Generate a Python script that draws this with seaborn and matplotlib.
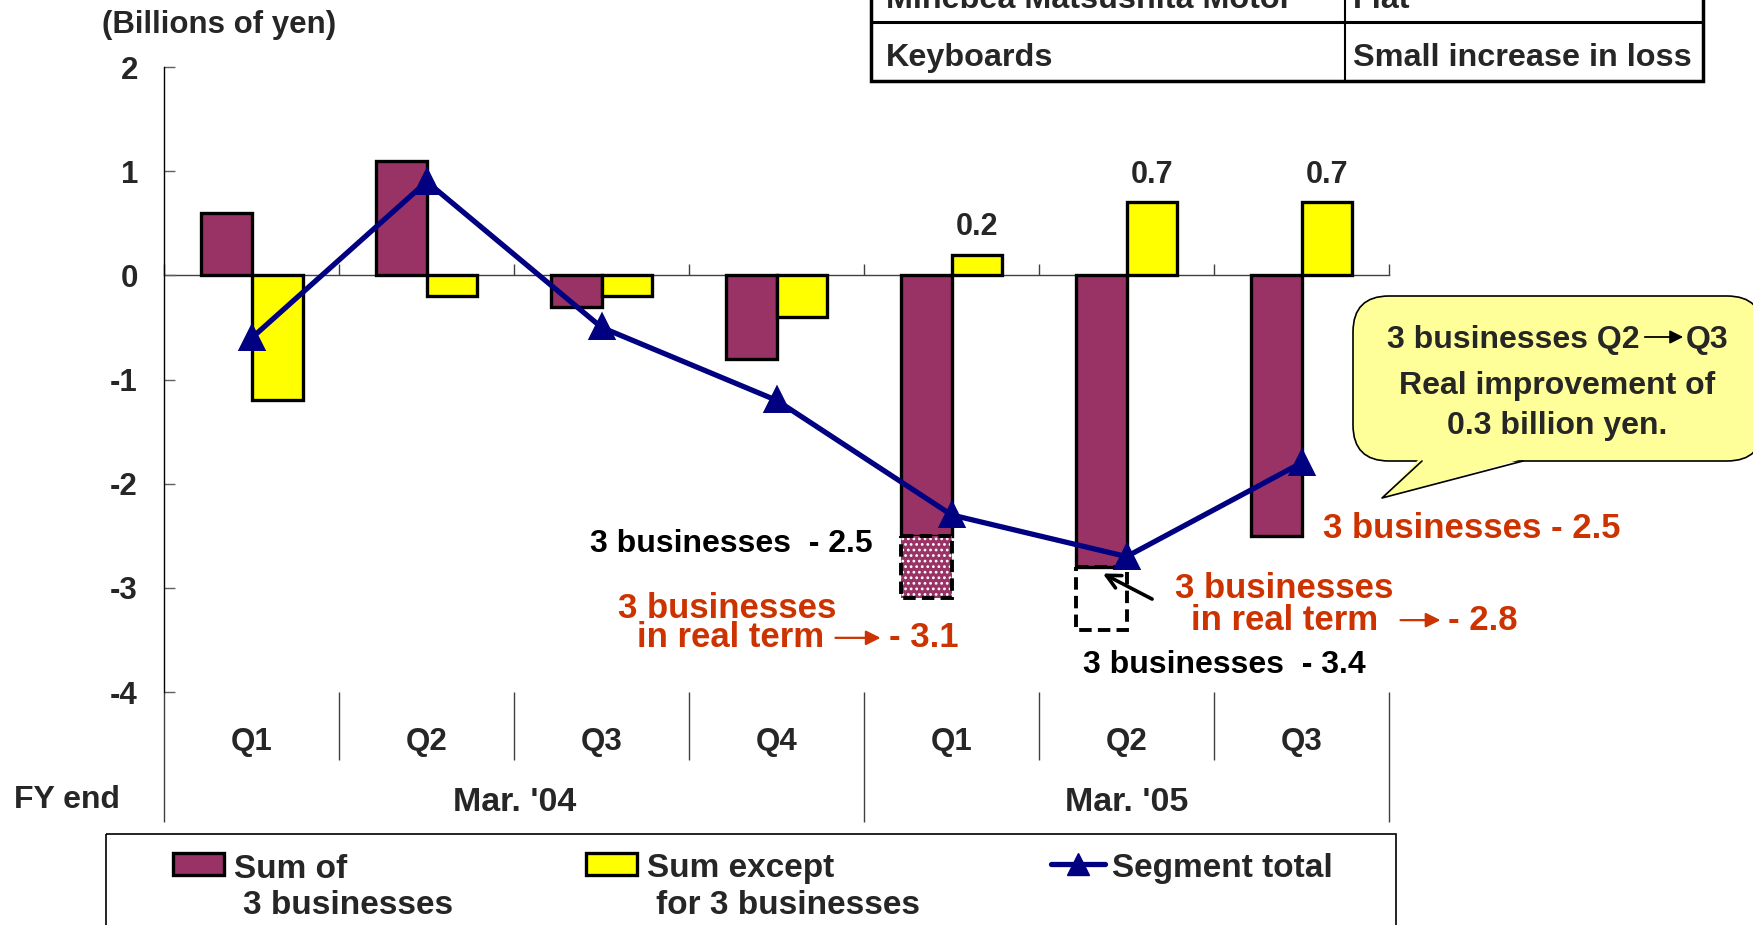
"""Segment profit chart: 3 businesses vs the rest, quarterly."""
import matplotlib
matplotlib.use("Agg")
import matplotlib.pyplot as plt
from matplotlib.lines import Line2D
from matplotlib.patches import FancyBboxPatch, Polygon, Rectangle
import numpy as np
import pandas as pd
import seaborn as sns

# ---- data -------------------------------------------------------------
quarters = ["Q1", "Q2", "Q3", "Q4", "Q1", "Q2", "Q3"]
fiscal_years = ["Mar. '04", "Mar. '05"]
fy_of_quarter = [0, 0, 0, 0, 1, 1, 1]
three_businesses = [0.6, 1.1, -0.3, -0.8, -2.5, -2.8, -2.5]
other_businesses = [-1.2, -0.2, -0.2, -0.4, 0.2, 0.7, 0.7]
segment_total = [-0.6, 0.9, -0.5, -1.2, -2.3, -2.7, -1.8]
other_labels = ["", "", "", "", "0.2", "0.7", "0.7"]
# real-term / reported adjustment boxes on the 3-business bars
adj_index = [4, 5]
adj_from = [-2.5, -2.8]
adj_to = [-3.1, -3.4]
legend_names = [("Sum of", "3 businesses"), ("Sum except", "for 3 businesses"), ("Segment total", "")]
table_rows = [("Minebea Matsushita Motor", "Flat"), ("Keyboards", "Small increase in loss")]
y_ticks = [-4, -3, -2, -1, 0, 1, 2]

PURPLE = "#993366"
YELLOW = "#FFFF00"
NAVY = "#000080"
RED = "#CC3300"
BUBBLE = "#FFFF99"
AXIS = "#404040"

W, H = 1753, 925
GROUP_W = 0.58
BAR_W = GROUP_W / 2
RED_SIZE = 25

sns.set_theme(style="white")
plt.rcParams["font.family"] = ["Liberation Sans", "DejaVu Sans"]
plt.rcParams["font.weight"] = "bold"
plt.rcParams["font.size"] = 23
plt.rcParams["hatch.linewidth"] = 1.2

keys = [f"{q} {fiscal_years[f]}" for q, f in zip(quarters, fy_of_quarter)]
bars = pd.DataFrame({
    "period": keys * 2,
    "value": three_businesses + other_businesses,
    "series": ["three"] * len(keys) + ["other"] * len(keys),
})
line = pd.DataFrame({"period": keys, "value": segment_total})

fig = plt.figure(figsize=(W / 100, H / 100), dpi=100, facecolor="white")
ax = fig.add_axes([164.3 / W, 1 - 692 / H, (1389 - 164.3) / W, (692 - 67.1) / H])

sns.barplot(data=bars, x="period", y="value", hue="series", order=keys,
            hue_order=["three", "other"], palette=[PURPLE, YELLOW], saturation=1,
            width=GROUP_W, edgecolor="black", linewidth=2.4, errorbar=None,
            legend=False, ax=ax)
other_bars = ax.containers[1]
ax.bar_label(other_bars, labels=other_labels, padding=9, fontsize=22, fontweight="bold")

sns.pointplot(data=line, x="period", y="value", order=keys, color=NAVY, markers="^",
              markersize=16, linewidth=3.8, errorbar=None, ax=ax, zorder=4)

# dashed boxes below the Mar.'05 Q1/Q2 bars
xs = np.array(adj_index) - BAR_W / 2
heights = np.array(adj_to) - np.array(adj_from)
ax.bar(xs[0], heights[0], bottom=adj_from[0], width=BAR_W, color=PURPLE,
       edgecolor="white", hatch="...", linewidth=0, zorder=1)
ax.bar(xs, heights, bottom=adj_from, width=BAR_W, facecolor="none", edgecolor="black",
       linewidth=2.8, linestyle=(0, (3.2, 1.6)), zorder=1.5)

# ---- axes styling -----------------------------------------------------
n = len(keys)
ax.set_xlim(-0.5, n - 0.5)
ax.set_ylim(-4, 2)
ax.set_yticks(y_ticks)
ax.set_yticklabels([str(v) for v in y_ticks], fontsize=22.5, fontweight="bold")
bounds = np.arange(-0.5, n, 1)
ax.set_xticks(bounds)
ax.set_xticklabels([])
ax.set_xlabel("")
ax.set_ylabel("")
ax.grid(False)
ax.spines["top"].set_visible(False)
ax.spines["right"].set_visible(False)
ax.spines["bottom"].set_position(("data", 0))
ax.spines["bottom"].set_color(AXIS)
ax.spines["bottom"].set_linewidth(1)
ax.spines["bottom"].set_zorder(0.5)
ax.spines["left"].set_color("black")
ax.spines["left"].set_linewidth(1)
ax.tick_params(axis="y", direction="in", length=8, width=1, color="#606060", pad=19, left=True)
ax.tick_params(axis="x", direction="in", length=8, width=1, color=AXIS, bottom=True)

# category table below the plot
group_edges = [-0.5] + [i - 0.5 for i in range(1, n) if fy_of_quarter[i] != fy_of_quarter[i - 1]] + [n - 0.5]
short_edges = [b for b in bounds if b not in group_edges]
ax.vlines(short_edges, -4, -4.65, color=AXIS, lw=1, clip_on=False)
ax.vlines(group_edges, -4, -5.25, color=AXIS, lw=1, clip_on=False)
for i, q in enumerate(quarters):
    ax.text(i, -4.48, q, ha="center", va="center", fontsize=22.5, clip_on=False)
for f, name in enumerate(fiscal_years):
    idx = [i for i, v in enumerate(fy_of_quarter) if v == f]
    ax.text(np.mean(idx), -5.06, name, ha="center", va="center", fontsize=24.5, clip_on=False)

# ---- annotations (data coords) ---------------------------------------
ax.text(3.55, -2.58, "3 businesses  - 2.5", ha="right", va="center", color="black")
ax.text(2.72, -3.20, "3 businesses", ha="center", va="center", color=RED, fontsize=RED_SIZE)
ax.text(3.27, -3.48, "in real term", ha="right", va="center", color=RED, fontsize=RED_SIZE)
ax.annotate("", xy=(3.61, -3.48), xytext=(3.32, -3.48),
            arrowprops=dict(arrowstyle="-|>", color=RED, lw=1.6, mutation_scale=22))
ax.text(3.64, -3.48, "- 3.1", ha="left", va="center", color=RED, fontsize=RED_SIZE, clip_on=False)

ax.text(6.12, -2.43, "3 businesses - 2.5", ha="left", va="center", color=RED,
        fontsize=RED_SIZE, clip_on=False)
ax.text(5.90, -3.01, "3 businesses", ha="center", va="center", color=RED, fontsize=RED_SIZE)
ax.text(6.44, -3.31, "in real term", ha="right", va="center", color=RED,
        fontsize=RED_SIZE, clip_on=False)
ax.annotate("", xy=(6.81, -3.31), xytext=(6.55, -3.31), annotation_clip=False,
            arrowprops=dict(arrowstyle="-|>", color=RED, lw=1.6, mutation_scale=22))
ax.text(6.84, -3.31, "- 2.8", ha="left", va="center", color=RED, fontsize=RED_SIZE, clip_on=False)
ax.annotate("", xy=(4.85, -2.85), xytext=(5.16, -3.12),
            arrowprops=dict(arrowstyle="->", color="black", lw=2.6, mutation_scale=25))
ax.text(5.56, -3.74, "3 businesses  - 3.4", ha="center", va="center", color="black")

# ---- overlay in pixel coords: header, legend, table, callout ----------
ov = fig.add_axes([0, 0, 1, 1])
ov.set_xlim(0, W)
ov.set_ylim(H, 0)
ov.axis("off")

ov.text(219, 25, "(Billions of yen)", ha="center", va="center", fontsize=22.5)
ov.text(14, 800, "FY end", ha="left", va="center", fontsize=23)

# legend box
ov.add_patch(Rectangle((106, 834), 1290, 200, facecolor="none", edgecolor="black", lw=1.2))
handles_x = [173, 586]
for (l1, l2), hx, color in zip(legend_names[:2], handles_x, [PURPLE, YELLOW]):
    ov.add_patch(Rectangle((hx, 853), 51, 22, facecolor=color, edgecolor="black", lw=2.4))
    ov.text(hx + 61, 869, l1, ha="left", va="center", fontsize=24)
    ov.text(hx + 70, 905, l2, ha="left", va="center", fontsize=24)
ov.add_line(Line2D([1051, 1105], [864, 864], color=NAVY, lw=3.8))
ov.add_line(Line2D([1078], [864], color=NAVY, marker="^", markersize=16, lw=0))
ov.text(1112, 869, legend_names[2][0], ha="left", va="center", fontsize=24)

# table top right
ov.add_patch(Rectangle((871, -60), 832, 140.5, facecolor="white", edgecolor="black", lw=2.5))
ov.plot([1345, 1345], [-60, 80.5], color="black", lw=1.5)
ov.plot([871, 1703], [22, 22], color="black", lw=2.2)
for (left, right), base in zip(table_rows, [8, 66]):
    ov.text(886, base, left, ha="left", va="baseline", fontsize=23.3)
    ov.text(1353, base, right, ha="left", va="baseline", fontsize=23.3)

# speech bubble
ov.add_patch(FancyBboxPatch((1353, 296), 410, 165, boxstyle="round,pad=0,rounding_size=36",
                            facecolor=BUBBLE, edgecolor="black", lw=1.2, zorder=3))
ov.add_patch(Polygon([(1420, 458), (1382, 498), (1526, 458)], closed=True,
                     facecolor=BUBBLE, edgecolor="none", zorder=4))
ov.plot([1422, 1382, 1523], [461, 498, 461], color="black", lw=1.2, zorder=5)
ov.text(1640, 340, "3 businesses Q2", ha="right", va="center", zorder=6)
ov.annotate("", xy=(1686, 337), xytext=(1642, 337), zorder=6,
            arrowprops=dict(arrowstyle="-|>", color="black", lw=1.3, mutation_scale=20))
ov.text(1686, 340, "Q3", ha="left", va="center", zorder=6)
ov.text(1557, 386, "Real improvement of", ha="center", va="center", zorder=6)
ov.text(1557, 426, "0.3 billion yen.", ha="center", va="center", zorder=6)

fig.savefig("out.png", dpi=100, facecolor="white")
plt.close(fig)
